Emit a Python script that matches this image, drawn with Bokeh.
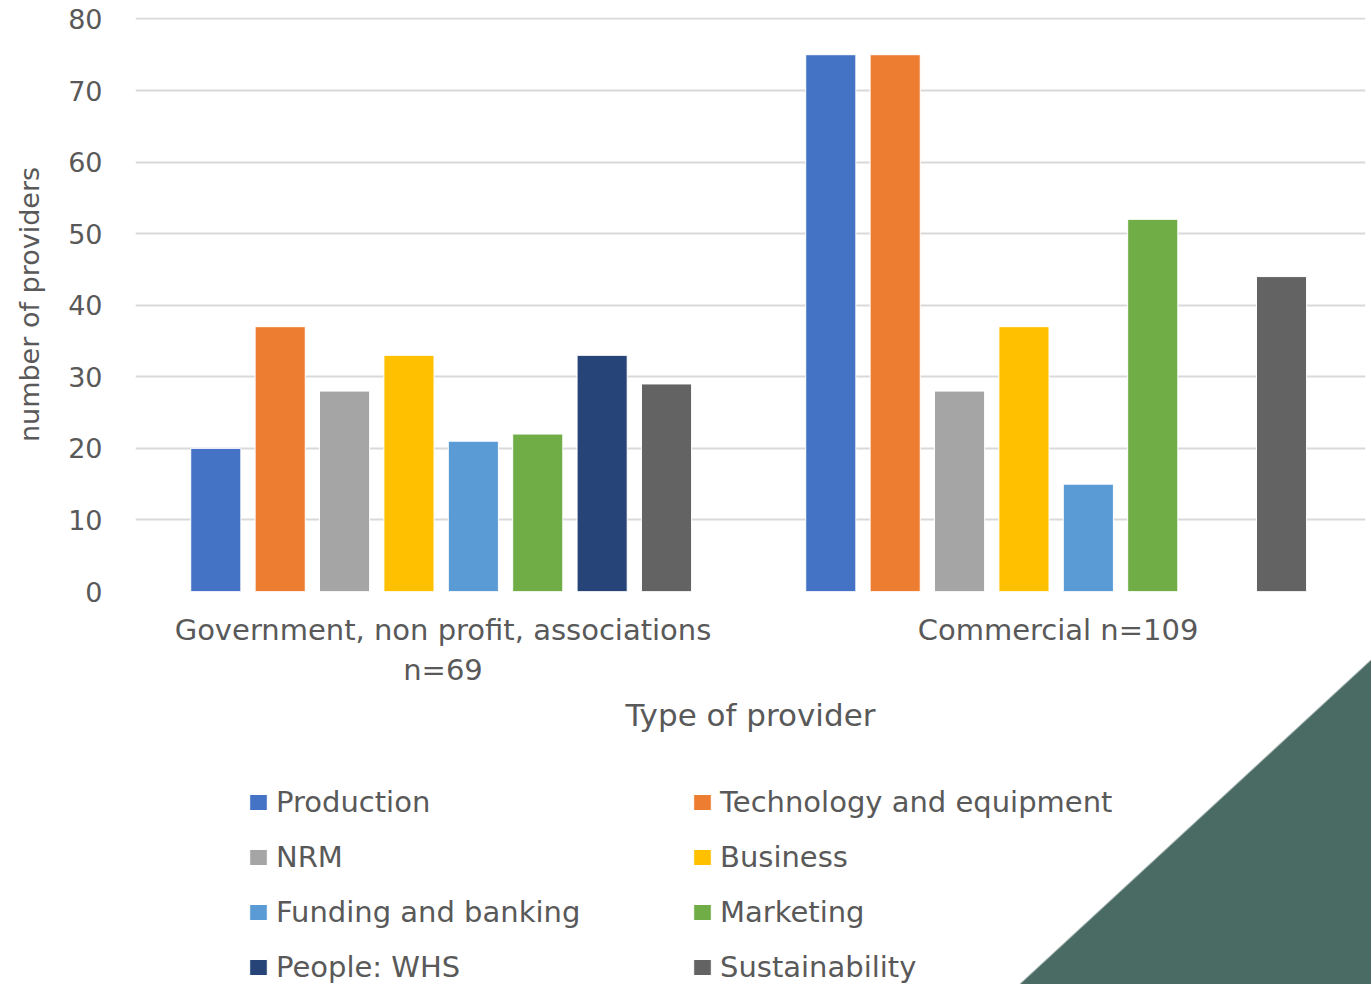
from bokeh.plotting import figure
from bokeh.layouts import column
from bokeh.models import (FixedTicker, Legend, LegendItem,
                          ColumnDataSource, Range1d)
from bokeh.embed import file_html
from bokeh.resources import INLINE

# ---- data ----
categories = ["Government, non profit, associations\nn=69", "Commercial n=109"]
series = ["Production", "Technology and equipment", "NRM", "Business",
          "Funding and banking", "Marketing", "People: WHS", "Sustainability"]
government = [20, 37, 28, 33, 21, 22, 33, 29]
commercial = [75, 75, 28, 37, 15, 52, 0, 44]
colors = ["#4472C4", "#ED7D31", "#A5A5A5", "#FFC000",
          "#5B9BD5", "#70AD47", "#264478", "#636363"]
y_ticks = [0, 10, 20, 30, 40, 50, 60, 70, 80]
x_title = "Type of provider"
y_title = "number of providers"

# ---- layout (pixels) ----
W = 1371
H1, H2 = 760, 224
FL, FR, FT, FB = 135, 1365, 17, 591
FONT = "DejaVu Sans"
TXT = "#595959"

p = figure(width=W, height=H1, x_range=Range1d(0, 2), y_range=Range1d(0, 80.2),
           output_backend="svg", toolbar_location=None,
           min_border_left=FL, min_border_right=W - FR,
           min_border_top=FT, min_border_bottom=H1 - FB)
p.outline_line_color = None
p.background_fill_color = "white"
p.border_fill_alpha = 0

slot = 0.1047
bar_w = 0.0815
n = len(series)
for i, s in enumerate(series):
    xs, tops = [], []
    for c, vals in enumerate([government, commercial]):
        if vals[i] > 0:
            xs.append(c + 0.497 + (i - (n - 1) / 2) * slot)
            tops.append(vals[i])
    src = ColumnDataSource(dict(x=xs, top=tops))
    p.vbar(x="x", top="top", width=bar_w, bottom=0, source=src,
           fill_color=colors[i], line_color="white", line_width=1)

# axes
p.yaxis.ticker = FixedTicker(ticks=y_ticks)
p.xaxis.ticker = FixedTicker(ticks=[0.5, 1.5])
p.xaxis.major_label_overrides = {0.5: categories[0], 1.5: categories[1]}
for ax in (p.xaxis[0], p.yaxis[0]):
    ax.axis_line_color = None
    ax.major_tick_line_color = None
    ax.minor_tick_line_color = None
    ax.major_tick_out = 0
    ax.major_tick_in = 0
    ax.major_label_text_font = FONT
    ax.major_label_text_color = TXT
    ax.axis_label_text_font = FONT
    ax.axis_label_text_color = TXT
    ax.axis_label_text_font_style = "normal"

p.yaxis.major_label_text_font_size = "27px"
p.yaxis.major_label_standoff = 33
p.yaxis.axis_label = y_title
p.yaxis.axis_label_text_font_size = "27px"
p.yaxis.axis_label_standoff = 20

p.xaxis.major_label_text_font_size = "29px"
p.xaxis.major_label_standoff = 21
p.xaxis.axis_label = x_title
p.xaxis.axis_label_text_font_size = "31px"
p.xaxis.axis_label_standoff = 7

p.xgrid.grid_line_color = None
p.ygrid.ticker = FixedTicker(ticks=y_ticks)
p.ygrid.grid_line_color = "#d9d9d9"
p.ygrid.grid_line_width = 2

# ---- legend panel (separate figure below the chart) ----
lg = figure(width=W, height=H2, x_range=Range1d(0, 1), y_range=Range1d(0, 1),
            x_axis_type=None, y_axis_type=None,
            output_backend="svg", toolbar_location=None,
            min_border=0)
lg.outline_line_color = None
lg.background_fill_alpha = 0
lg.border_fill_alpha = 0
lg.xgrid.visible = False
lg.ygrid.visible = False
keys = {}
for i, s in enumerate(series):
    r = lg.vbar(x=[float("nan")], top=[float("nan")], width=0.1,
                fill_color=colors[i], line_color="white", line_width=1)
    keys[s] = LegendItem(label=s, renderers=[r])
# legend fills columns first: left column = even series, right = odd series
order = series[0::2] + series[1::2]
legend = Legend(items=[keys[s] for s in order], location=(112, 0), ncols=2,
                glyph_width=22, glyph_height=20, label_standoff=7,
                label_width=394, label_height=30, spacing=21,
                padding=0, margin=0, border_line_alpha=0,
                background_fill_alpha=0,
                label_text_font=FONT, label_text_font_size="29px",
                label_text_color=TXT)
lg.add_layout(legend, "center")

layout = column(p, lg, spacing=0)
# decorative dark-green corner triangle (page background)
layout.styles = {
    "background-image": "linear-gradient(to bottom right, rgba(74,107,100,0) 49.8%, #4a6b64 50.2%)",
    "background-repeat": "no-repeat",
    "background-size": "351px 324px",
    "background-position": "1020px 660px",
}

open("out.html", "w").write(file_html(layout, INLINE))
